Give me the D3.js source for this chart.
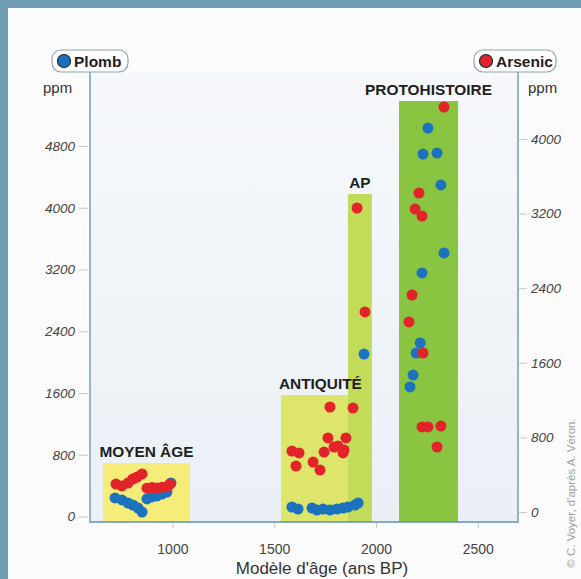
<!DOCTYPE html>
<html>
<head>
<meta charset="utf-8">
<script src="https://cdn.jsdelivr.net/npm/d3@7"></script>
<style>
  html, body { margin: 0; padding: 0; background: #fff; }
  svg { display: block; font-family: "Liberation Sans", Arial, sans-serif; }
</style>
</head>
<body>
<div id="chart"></div>
<script>
// axis ticks
const ageTicks = [1000, 1500, 2000, 2500];
const plombTicks = [0, 800, 1600, 2400, 3200, 4000, 4800];
const arsenicTicks = [0, 800, 1600, 2400, 3200, 4000];

// periods (years BP, top given in Plomb ppm)
const periods = ["MOYEN ÂGE", "ANTIQUITÉ", "AP", "PROTOHISTOIRE"];
const periodStart = [659, 1533, 1862, 2113];
const periodEnd = [1086, 1921, 1980, 2403];
const periodTop = [693, 1574, 4178, 5383];
const periodColors = ["#f6ec7a", "#dde56a", "#c2dc5a", "#89c540"];

// Plomb (ppm, left axis)
const plombAge = [718, 752, 782, 806, 831, 851, 875, 900, 924, 949, 973, 993,
  1587, 1617, 1686, 1710, 1740, 1774, 1808, 1838, 1862, 1897, 1912,
  1941,
  2255, 2231, 2300, 2319, 2334, 2226, 2217, 2197, 2182, 2167];
const plombPpm = [240, 214, 175, 149, 110, 58, 227, 253, 266, 291, 317, 434,
  123, 97, 110, 84, 97, 84, 97, 110, 123, 149, 175,
  2105,
  5033, 4696, 4709, 4295, 3414, 3155, 2248, 2118, 1833, 1678];

// Arsenic (ppm, right axis)
const arsenicAge = [723, 752, 782, 806, 826, 851, 875, 900, 924, 949, 973, 988,
  1774, 1887, 1764, 1852, 1794, 1813, 1843, 1838, 1587, 1622, 1745, 1691, 1607, 1725,
  1907, 1946,
  2334, 2211, 2192, 2226, 2177, 2162, 2231, 2226, 2255, 2319, 2300];
const arsenicPpm = [300, 279, 311, 354, 375, 408, 255, 262, 258, 265, 270, 300,
  1126, 1115, 794, 794, 697, 708, 665, 633, 654, 633, 643, 536, 493, 450,
  3260, 2145,
  4343, 3421, 3249, 3174, 2327, 2038, 1705, 912, 912, 922, 697];

const W = 581, H = 579;
const svg = d3.select("#chart").append("svg")
    .attr("width", W).attr("height", H);

// frame
svg.append("rect").attr("width", W).attr("height", H).attr("fill", "#6f9db3");
svg.append("rect").attr("x", 8).attr("y", 8).attr("width", W - 8).attr("height", H - 8)
    .attr("fill", "#fbfbfc");

const x = d3.scaleLinear().domain([1000, 2000]).range([172.4, 376]);
const yL = d3.scaleLinear().domain([0, 4800]).range([516.5, 146]);
const yR = d3.scaleLinear().domain([0, 4000]).range([512, 139]);

const plotLeft = 90, plotRight = 518, plotBottom = 522, plotTop = 72;

const defs = svg.append("defs");
const grad = defs.append("linearGradient").attr("id", "bg")
    .attr("x1", 0).attr("y1", 0).attr("x2", 0).attr("y2", 1);
grad.append("stop").attr("offset", "0%").attr("stop-color", "#f6f8fb");
grad.append("stop").attr("offset", "100%").attr("stop-color", "#eaf0f6");

svg.append("rect")
    .attr("x", plotLeft).attr("y", plotTop)
    .attr("width", plotRight - plotLeft).attr("height", plotBottom - plotTop)
    .attr("fill", "url(#bg)");

// period bands
const bands = periods.map((p, i) => ({
  name: p, start: periodStart[i], end: periodEnd[i], top: periodTop[i], color: periodColors[i]
}));

svg.selectAll(".band")
  .data(bands)
  .enter().append("rect")
    .attr("class", "band")
    .attr("x", d => x(d.start))
    .attr("y", d => yL(d.top))
    .attr("width", d => x(d.end) - x(d.start))
    .attr("height", d => plotBottom - yL(d.top))
    .attr("fill", d => d.color);

svg.selectAll(".bandLabel")
  .data(bands)
  .enter().append("text")
    .attr("class", "bandLabel")
    .attr("x", d => (x(d.start) + x(d.end)) / 2)
    .attr("y", d => yL(d.top) - 6)
    .attr("text-anchor", "middle")
    .style("font-size", "15.4px")
    .style("font-weight", "bold")
    .style("fill", "#1e1e1e")
    .text(d => d.name);

// axes
const fmt = d3.format("d");
const axisL = svg.append("g")
    .attr("transform", "translate(" + (plotLeft - 2) + ",0)")
    .call(d3.axisLeft(yL).tickValues(plombTicks).tickFormat(fmt).tickSize(9).tickPadding(4));
const axisR = svg.append("g")
    .attr("transform", "translate(" + (plotRight + 1) + ",0)")
    .call(d3.axisRight(yR).tickValues(arsenicTicks).tickFormat(fmt).tickSize(8).tickPadding(4));
const axisB = svg.append("g")
    .attr("transform", "translate(0," + (plotBottom + 1) + ")")
    .call(d3.axisBottom(x).tickValues(ageTicks).tickFormat(fmt).tickSize(5).tickPadding(16));

[axisL, axisR, axisB].forEach(a => {
  a.select(".domain").remove();
  a.selectAll(".tick line").attr("stroke", "#c4c8cc");
  a.selectAll(".tick text")
    .style("font-family", "'Liberation Sans', Arial, sans-serif")
    .style("fill", "#444");
});
[axisL, axisR].forEach(a => {
  a.selectAll(".tick text").style("font-size", "13.5px").style("font-style", "italic");
});
axisB.selectAll(".tick text").style("font-size", "14px");

// frame lines
svg.append("path")
    .attr("d", `M${plotLeft},${plotTop} V${plotBottom} H${plotRight} V${plotTop}`)
    .attr("fill", "none")
    .attr("stroke", "#5f93ab")
    .attr("stroke-width", 1.3);

// points
const plomb = plombAge.map((a, i) => ({ age: a, ppm: plombPpm[i] }));
const arsenic = arsenicAge.map((a, i) => ({ age: a, ppm: arsenicPpm[i] }));

svg.selectAll(".plomb")
  .data(plomb)
  .enter().append("circle")
    .attr("class", "plomb")
    .attr("cx", d => x(d.age))
    .attr("cy", d => yL(d.ppm))
    .attr("r", 5.5)
    .attr("fill", "#1b72bd");

svg.selectAll(".arsenic")
  .data(arsenic)
  .enter().append("circle")
    .attr("class", "arsenic")
    .attr("cx", d => x(d.age))
    .attr("cy", d => yR(d.ppm))
    .attr("r", 5.5)
    .attr("fill", "#e2232a");

// legends
const legends = [
  { label: "Plomb", color: "#1b72bd", x: 52, w: 76 },
  { label: "Arsenic", color: "#e2232a", x: 474, w: 82 }
];
const lg = svg.selectAll(".legend")
  .data(legends)
  .enter().append("g")
    .attr("class", "legend")
    .attr("transform", d => "translate(" + d.x + ",50)");
lg.append("rect")
    .attr("width", d => d.w).attr("height", 22)
    .attr("rx", 9).attr("ry", 9)
    .attr("fill", "#fff")
    .attr("stroke", "#8aa3b0")
    .attr("stroke-width", 1.2);
lg.append("circle")
    .attr("cx", 12).attr("cy", 11).attr("r", 6.5)
    .attr("fill", d => d.color)
    .attr("stroke", "#1a2a33").attr("stroke-width", 1.2);
lg.append("text")
    .attr("x", 22).attr("y", 16.5)
    .style("font-size", "15.5px")
    .style("font-weight", "bold")
    .style("fill", "#1e1e1e")
    .text(d => d.label);

// units
svg.append("text").attr("x", 43).attr("y", 93)
    .style("font-size", "15px").style("fill", "#333").text("ppm");
svg.append("text").attr("x", 528).attr("y", 93)
    .style("font-size", "15px").style("fill", "#333").text("ppm");

// x title
svg.append("text")
    .attr("x", 322).attr("y", 574)
    .attr("text-anchor", "middle")
    .style("font-size", "17px")
    .style("fill", "#333")
    .text("Modèle d'âge (ans BP)");

// credit
svg.append("text")
    .attr("transform", "translate(575,493) rotate(-90)")
    .attr("text-anchor", "middle")
    .style("font-size", "11.5px")
    .style("fill", "#a0a0a0")
    .text("© C. Voyer, d'après A. Véron.");
</script>
</body>
</html>
